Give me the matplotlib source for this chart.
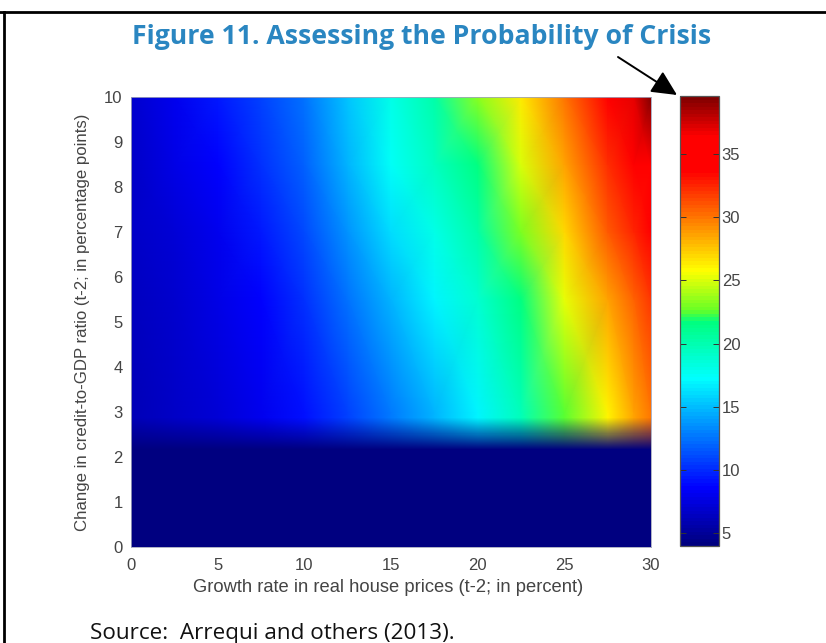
import numpy as np
import matplotlib
matplotlib.use("Agg")
import matplotlib.pyplot as plt
from matplotlib.colors import LinearSegmentedColormap, Normalize
from matplotlib.patches import FancyArrowPatch
from matplotlib.lines import Line2D

TITLE = "Figure 11. Assessing the Probability of Crisis"
XLABEL = "Growth rate in real house prices (t-2; in percent)"
YLABEL = "Change in credit-to-GDP ratio (t-2; in percentage points)"
SOURCE = "Source:  Arrequi and others (2013)."

growth = [0, 2.5, 5, 7.5, 10, 12.5, 15, 17.5, 20, 22.5, 25, 27.5, 29, 30]
credit = [3, 5.5, 7, 8.5, 10]
prob_c3 = [6.0, 6.6, 7.3, 8.0, 9.2, 10.8, 12.6, 14.6, 17.0, 19.6, 22.4, 26.1, 28.5, 30.0]
prob_c55 = [6.3, 7.0, 7.7, 8.5, 10.3, 12.4, 14.6, 16.8, 19.0, 21.6, 25.2, 28.6, 30.6, 32.0]
prob_c7 = [6.5, 7.3, 8.1, 9.5, 11.2, 13.6, 16.0, 18.0, 20.2, 23.0, 27.0, 30.7, 32.6, 34.0]
prob_c85 = [6.7, 7.6, 8.6, 10.2, 11.9, 14.6, 17.4, 19.3, 21.6, 25.0, 28.6, 32.3, 34.2, 35.8]
prob_c10 = [7.0, 8.0, 9.4, 10.9, 12.4, 15.3, 18.0, 20.2, 23.3, 26.5, 30.0, 34.0, 37.0, 39.6]
low_credit_prob = 3.97          # floor value below the credit threshold
fade_credit = [2.16, 2.89]      # credit range over which the floor fades out

vmin, vmax = 3.97, 39.6
cb_ticks = [5, 10, 15, 20, 25, 30, 35]
x_ticks = [0, 5, 10, 15, 20, 25, 30]
y_ticks = list(range(0, 11))

# colourmap: (value, colour)
stops = [(3.97, (0, 0, .5)), (8.5, (0, 0, 1)), (17.2, (0, 1, 1)), (21.7, (0, 1, .5)),
         (22.6, (.4, 1, .15)), (25.8, (1, 1, 0)), (33.7, (1, 0, 0)), (36.5, (1, 0, 0)),
         (39.6, (.5, 0, 0))]
cmap = LinearSegmentedColormap.from_list(
    "crisis", [((v - vmin) / (vmax - vmin), c) for v, c in stops], N=128)
norm = Normalize(vmin, vmax)

W, H = 826, 643
plt.rcParams["font.family"] = ["Liberation Sans", "DejaVu Sans"]
fig = plt.figure(figsize=(W / 100, H / 100), dpi=100)

def rect(x0, y0, x1, y1):
    return [x0 / W, 1 - y1 / H, (x1 - x0) / W, (y1 - y0) / H]

INK = "#444444"
ax = fig.add_axes(rect(131, 97, 651, 547))
Z = np.array([prob_c3, prob_c55, prob_c7, prob_c85, prob_c10])
# the threshold row carries the same values as the first row, then fades to the floor
yg = np.array([fade_credit[0]] + credit)
Zg = np.vstack([Z[0], Z])
ax.pcolormesh(growth, yg, Zg, cmap=cmap, norm=norm, shading="gouraud", rasterized=True)
floor_cmap_value = np.full((2, 2), low_credit_prob)
ax.pcolormesh([growth[0], growth[-1]], [0, fade_credit[0]],
              floor_cmap_value, cmap=cmap, norm=norm, shading="gouraud")
fade_cmap = LinearSegmentedColormap.from_list(
    "fade", [(0, 0, .5, 1), (0, 0, .5, 0)], N=256)
ax.imshow(np.linspace(1, 0, 64).reshape(-1, 1), cmap=fade_cmap, vmin=0, vmax=1,
          extent=[growth[0], growth[-1], fade_credit[0], fade_credit[1]],
          aspect="auto", interpolation="nearest", zorder=3)
ax.set_xlim(0, 30)
ax.set_ylim(0, 10)
ax.set_xticks(x_ticks)
ax.set_yticks(y_ticks)
ax.tick_params(axis="x", length=0, labelsize=12, labelcolor=INK, pad=8)
ax.tick_params(axis="y", length=0, labelsize=12, labelcolor=INK, pad=6)
ax.set_xlabel(XLABEL, fontsize=13.2, color=INK, va="center")
ax.set_ylabel(YLABEL, fontsize=12.1, color=INK, va="center")
ax.xaxis.set_label_coords(257.5 / 520, -40.5 / 450)
ax.yaxis.set_label_coords(-48 / 520, 0.499)
for s in ax.spines.values():
    s.set_color("#a0a4bc")
    s.set_linewidth(0.6)
    s.set_zorder(5)

cax = fig.add_axes(rect(680, 96, 719, 546))
cb = fig.colorbar(plt.cm.ScalarMappable(norm=norm, cmap=cmap), cax=cax, ticks=cb_ticks)
cb.ax.tick_params(direction="in", length=4, width=0.7, labelsize=12, labelcolor=INK,
                  color="#333333", pad=2, left=True, right=True)
cb.outline.set_edgecolor("#555555")
cb.outline.set_linewidth(0.9)

# page furniture
fig.text(421.5 / W, 1 - 37.5 / H, TITLE, ha="center", va="center", fontsize=19.2,
         fontweight="bold", family="Open Sans", color="#2a86c1")
fig.text(90 / W, 1 - 633.5 / H, SOURCE, ha="left", va="center", fontsize=16.2,
         family="Open Sans", color="#111111")
fig.add_artist(Line2D([0, 1], [1 - 12 / H] * 2, color="black", lw=2, transform=fig.transFigure))
fig.add_artist(Line2D([4 / W, 4 / W], [0, 1 - 12 / H], color="black", lw=2, transform=fig.transFigure))
fig.add_artist(FancyArrowPatch((618 / W, 1 - 57 / H), (677 / W, 1 - 95 / H),
                               transform=fig.transFigure,
                               arrowstyle="-|>,head_length=0.7,head_width=0.34",
                               mutation_scale=22, lw=1.4, color="black",
                               shrinkA=0, shrinkB=0))
fig.savefig("out.png", dpi=100)
